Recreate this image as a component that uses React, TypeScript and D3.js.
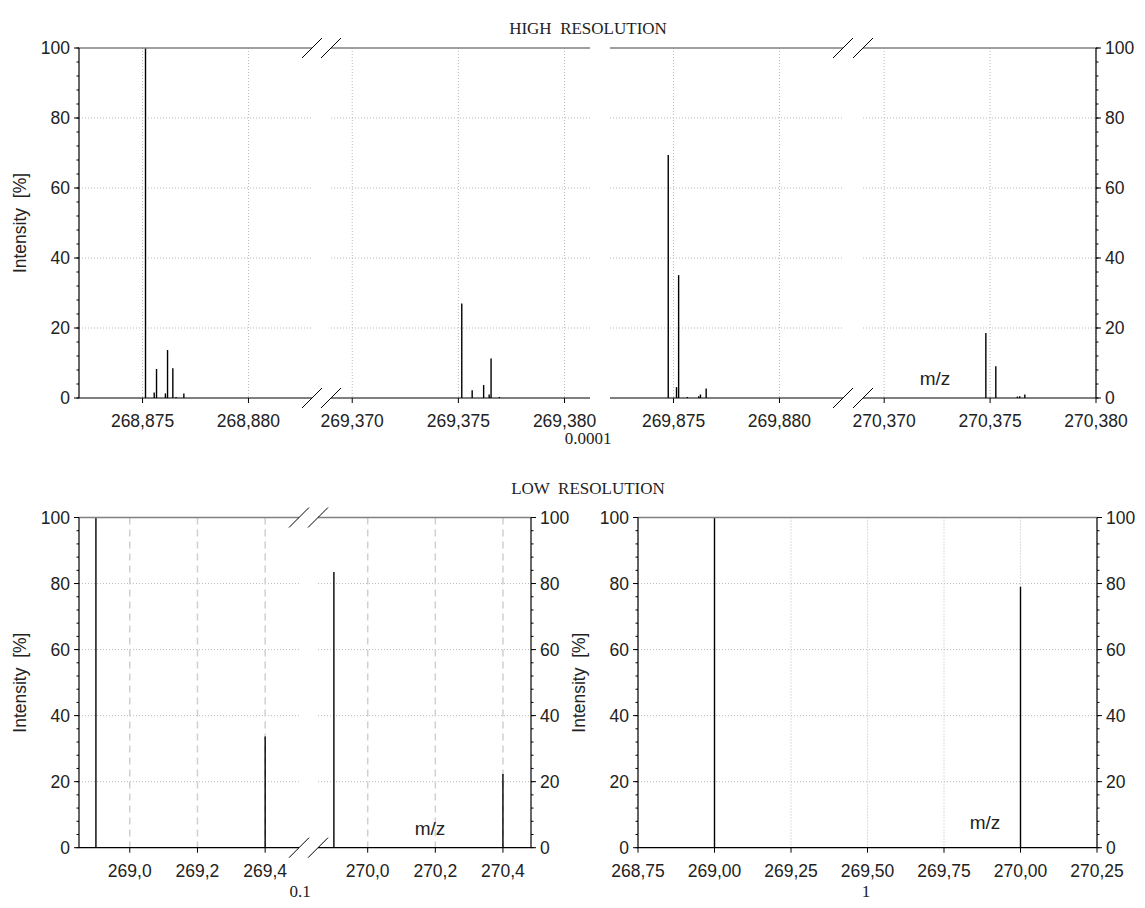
import React from 'react';
import * as d3 from 'd3';

// ---- data ----
const highLeftMz = [268.87514, 268.87555, 268.87566, 268.87608, 268.87618, 268.87643, 268.87658, 268.87695,
  269.37516, 269.37565, 269.37619, 269.37645, 269.37654, 269.37693];
const highLeftInt = [100, 1.6, 8.3, 1.3, 13.7, 8.5, 0.3, 1.3, 27, 2.2, 3.7, 1.0, 11.3, 0.3];

const highRightMz = [269.87475, 269.87514, 269.87524, 269.87565, 269.87619, 269.87627, 269.87654,
  270.3748, 270.37527, 270.37629, 270.3764, 270.37664];
const highRightInt = [69.4, 3.1, 35.1, 0.3, 0.5, 1.0, 2.7, 18.6, 9.1, 0.4, 0.5, 1.0];

const lowLeftMz = [268.9, 269.4, 269.9, 270.4];
const lowLeftInt = [100, 33.7, 83.5, 22.3];

const lowRightMz = [269.0, 270.0];
const lowRightInt = [100, 79];

const highLeftTicks = [268.875, 268.88, 269.37, 269.375, 269.38];
const highRightTicks = [269.875, 269.88, 270.37, 270.375, 270.38];
const lowLeftTicks = [269.0, 269.2, 269.4, 270.0, 270.2, 270.4];
const lowRightTicks = [268.75, 269.0, 269.25, 269.5, 269.75, 270.0, 270.25];
const yTicks = [0, 20, 40, 60, 80, 100];

const highLeftDomains = [[268.872, 268.883], [269.369, 269.3812]];
const highRightDomains = [[269.872, 269.883], [270.369, 270.38]];
const lowLeftDomains = [[268.85, 269.5], [269.853, 270.483]];
const lowRightDomains = [[268.75, 270.25]];

const SANS = '"Liberation Sans", Arial, Helvetica, sans-serif';
const SERIF = '"Liberation Serif", "Times New Roman", serif';

type Seg = { domain: number[]; x0: number; x1: number };

interface PanelProps {
  segs: Seg[];
  yTop: number;
  yBot: number;
  leftAxis: boolean;
  rightAxis: boolean;
  ticks: number[];
  decimals: number;
  mz: number[];
  ints: number[];
  dashedV?: boolean;
  mzLabel?: [number, number];
  yLabelX?: number;
}

function Panel(p: PanelProps) {
  const y = d3.scaleLinear().domain([0, 100]).range([p.yBot, p.yTop]);
  const minor = d3.range(0, 101, 4);
  const first = p.segs[0];
  const last = p.segs[p.segs.length - 1];
  const fmt = (v: number) => v.toFixed(p.decimals).replace('.', ',');
  const brk = (cx: number, cy: number, k: string) => (
    <line key={k} x1={cx - 10} y1={cy + 10} x2={cx + 10} y2={cy - 10} stroke="#000" strokeWidth={1} />
  );

  return (
    <g>
      {p.segs.map((s, si) => {
        const x = d3.scaleLinear().domain(s.domain).range([s.x0, s.x1]);
        const tk = p.ticks.filter(t => t >= s.domain[0] - 1e-9 && t <= s.domain[1] + 1e-9);
        return (
          <g key={si}>
            {/* grid */}
            {yTicks.filter(t => t > 0 && t < 100).map(t => (
              <line key={'h' + t} x1={s.x0} x2={s.x1} y1={y(t)} y2={y(t)} stroke="#bbb" strokeWidth={1} strokeDasharray="1,2" />
            ))}
            {tk.map(t => (
              <line key={'v' + t} x1={x(t)} x2={x(t)} y1={p.yTop} y2={p.yBot}
                stroke={p.dashedV ? '#d0d0d0' : '#bbb'} strokeWidth={p.dashedV ? 1.5 : 1}
                strokeDasharray={p.dashedV ? '7,5' : '1,2'} />
            ))}
            {/* peaks */}
            {p.mz.map((m, i) => (m >= s.domain[0] && m <= s.domain[1]) ? (
              <line key={'p' + i} x1={x(m)} x2={x(m)} y1={y(0)} y2={y(p.ints[i])} stroke="#000" strokeWidth={1.4} />
            ) : null)}
            {/* frame */}
            <line x1={s.x0} x2={s.x1} y1={p.yTop} y2={p.yTop} stroke="#808080" strokeWidth={1.5} />
            <line x1={s.x0} x2={s.x1} y1={p.yBot} y2={p.yBot} stroke="#000" strokeWidth={1.2} />
            {tk.map(t => (
              <g key={'t' + t}>
                <line x1={x(t)} x2={x(t)} y1={p.yBot} y2={p.yBot + 5} stroke="#000" strokeWidth={1} />
                <text x={x(t)} y={p.yBot + 29} textAnchor="middle" fontFamily={SANS} fontSize={17.5} fill="#222">{fmt(t)}</text>
              </g>
            ))}
          </g>
        );
      })}
      {/* axis breaks */}
      {p.segs.slice(1).map((s, i) => {
        const prev = p.segs[i];
        return (
          <g key={'b' + i}>
            {brk(prev.x1, p.yTop, 'a')}
            {brk(s.x0, p.yTop, 'b')}
            {brk(prev.x1, p.yBot, 'c')}
            {brk(s.x0, p.yBot, 'd')}
          </g>
        );
      })}
      {p.leftAxis && (
        <g>
          <line x1={first.x0} x2={first.x0} y1={p.yTop} y2={p.yBot} stroke="#000" strokeWidth={1.2} />
          {minor.map(t => (
            <line key={'lm' + t} x1={first.x0 - 2.5} x2={first.x0} y1={y(t)} y2={y(t)} stroke="#000" strokeWidth={1} />
          ))}
          {yTicks.map(t => (
            <g key={'ly' + t}>
              <line x1={first.x0 - 5} x2={first.x0} y1={y(t)} y2={y(t)} stroke="#000" strokeWidth={1} />
              <text x={first.x0 - 9} y={y(t)} dy="0.36em" textAnchor="end" fontFamily={SANS} fontSize={17.5} fill="#222">{t}</text>
            </g>
          ))}
        </g>
      )}
      {p.rightAxis && (
        <g>
          <line x1={last.x1} x2={last.x1} y1={p.yTop} y2={p.yBot} stroke="#000" strokeWidth={1.2} />
          {minor.map(t => (
            <line key={'rm' + t} x1={last.x1} x2={last.x1 + 2.5} y1={y(t)} y2={y(t)} stroke="#000" strokeWidth={1} />
          ))}
          {yTicks.map(t => (
            <g key={'ry' + t}>
              <line x1={last.x1} x2={last.x1 + 5} y1={y(t)} y2={y(t)} stroke="#000" strokeWidth={1} />
              <text x={last.x1 + 9} y={y(t)} dy="0.36em" textAnchor="start" fontFamily={SANS} fontSize={17.5} fill="#222">{t}</text>
            </g>
          ))}
        </g>
      )}
      {p.yLabelX !== undefined && (
        <text transform={`translate(${p.yLabelX},${(p.yTop + p.yBot) / 2}) rotate(-90)`} textAnchor="middle"
          fontFamily={SANS} fontSize={17.5} fill="#222" style={{ whiteSpace: 'pre' }}>{'Intensity  [%]'}</text>
      )}
      {p.mzLabel && (
        <text x={p.mzLabel[0]} y={p.mzLabel[1]} textAnchor="middle" fontFamily={SANS} fontSize={19} fill="#222">m/z</text>
      )}
    </g>
  );
}

export default function App() {
  const hTop = 48, hBot = 398, lTop = 517.5, lBot = 847.7;
  const title = { textAnchor: 'middle' as const, fontFamily: SERIF, fontSize: 17, fill: '#222' };
  return (
    <svg width={1145} height={908} style={{ position: 'absolute', left: 0, top: 0, background: '#fff' }}>
      <text x={588} y={34} {...title} style={{ whiteSpace: 'pre' }}>{'HIGH  RESOLUTION'}</text>
      <Panel segs={[{ domain: highLeftDomains[0], x0: 79, x1: 312 }, { domain: highLeftDomains[1], x0: 331, x1: 590 }]}
        yTop={hTop} yBot={hBot} leftAxis rightAxis={false} ticks={highLeftTicks} decimals={3}
        mz={highLeftMz} ints={highLeftInt} yLabelX={26} />
      <Panel segs={[{ domain: highRightDomains[0], x0: 610, x1: 843 }, { domain: highRightDomains[1], x0: 863, x1: 1096 }]}
        yTop={hTop} yBot={hBot} leftAxis={false} rightAxis ticks={highRightTicks} decimals={3}
        mz={highRightMz} ints={highRightInt} mzLabel={[935, 385]} />
      <text x={588} y={444} {...title}>0.0001</text>

      <text x={588} y={494} {...title} style={{ whiteSpace: 'pre' }}>{'LOW  RESOLUTION'}</text>
      <Panel segs={[{ domain: lowLeftDomains[0], x0: 79, x1: 299 }, { domain: lowLeftDomains[1], x0: 318, x1: 531 }]}
        yTop={lTop} yBot={lBot} leftAxis rightAxis ticks={lowLeftTicks} decimals={1}
        mz={lowLeftMz} ints={lowLeftInt} dashedV mzLabel={[430, 835]} yLabelX={26} />
      <Panel segs={[{ domain: lowRightDomains[0], x0: 638, x1: 1097 }]}
        yTop={lTop} yBot={lBot} leftAxis rightAxis ticks={lowRightTicks} decimals={2}
        mz={lowRightMz} ints={lowRightInt} mzLabel={[985, 829]} yLabelX={585} />
      <text x={300} y={897} {...title}>0.1</text>
      <text x={866} y={897} {...title}>1</text>
    </svg>
  );
}
